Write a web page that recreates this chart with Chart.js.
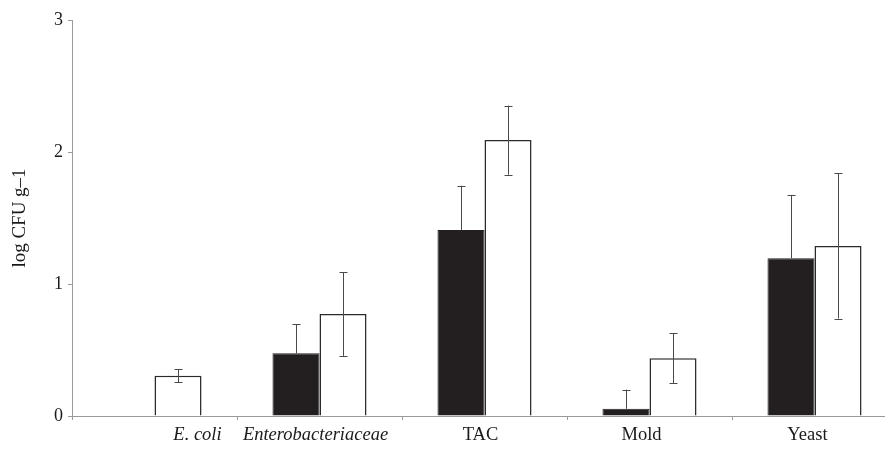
<!DOCTYPE html>
<html>
<head>
<meta charset="utf-8">
<script src="https://cdn.jsdelivr.net/npm/chart.js@4/dist/chart.umd.min.js"></script>
<style>
  html, body { margin: 0; padding: 0; background: #fff; overflow: hidden; }
  #wrap { width: 910px; height: 458px; }
</style>
</head>
<body>
<div id="wrap"><canvas id="c" width="910" height="458"></canvas></div>
<script>
// ---- data ----
const categories = ["E. coli", "Enterobacteriaceae", "TAC", "Mold", "Yeast"];
const seriesBlack = [0, 0.475, 1.41, 0.055, 1.195];
const errorBlack  = [0, 0.22, 0.335, 0.145, 0.48];
const seriesWhite = [0.305, 0.773, 2.09, 0.437, 1.288];
const errorWhite  = [0.048, 0.318, 0.262, 0.19, 0.55];
const yTicks = [0, 1, 2, 3];
const yTitle = "log CFU g\u20131";

// ---- style ----
const italicLabels = [true, true, false, false, false];
const labelShift = [43, -4, -4, -8, -7];
const FONT = "'Liberation Serif', 'Times New Roman', serif";

const errorBarPlugin = {
  id: 'errorBars',
  afterDatasetsDraw(chart) {
    const ctx = chart.ctx;
    const y = chart.scales.y;
    ctx.save();
    ctx.strokeStyle = '#4a4a4a';
    ctx.lineWidth = 1;
    chart.data.datasets.forEach((ds, di) => {
      const meta = chart.getDatasetMeta(di);
      meta.data.forEach((bar, i) => {
        const v = ds.data[i], e = ds.errors[i];
        if (!e) return;
        const x = Math.round(bar.x) + 0.5;
        const top = y.getPixelForValue(v + e);
        const bot = ds.lowerHidden ? y.getPixelForValue(v) : y.getPixelForValue(v - e);
        ctx.beginPath();
        ctx.moveTo(x, top); ctx.lineTo(x, bot);
        ctx.moveTo(x - 4, Math.round(top) + 0.5); ctx.lineTo(x + 4, Math.round(top) + 0.5);
        if (!ds.lowerHidden) {
          ctx.moveTo(x - 4, Math.round(bot) + 0.5); ctx.lineTo(x + 4, Math.round(bot) + 0.5);
        }
        ctx.stroke();
      });
    });
    ctx.restore();
  }
};

const labelShiftPlugin = {
  id: 'labelShift',
  beforeDraw(chart) {
    const items = chart.scales.x.getLabelItems();
    items.forEach((it, i) => {
      if (!it._shifted) {
        it.options.translation[0] += labelShift[i] || 0;
        it._shifted = true;
      }
    });
  }
};

new Chart(document.getElementById('c'), {
  type: 'bar',
  data: {
    labels: categories,
    datasets: [
      {
        label: 'Series 1',
        data: seriesBlack,
        errors: errorBlack,
        lowerHidden: true,
        backgroundColor: '#231f20',
        borderColor: '#231f20',
        borderWidth: 1,
        categoryPercentage: 0.57,
        barPercentage: 1.0
      },
      {
        label: 'Series 2',
        data: seriesWhite,
        errors: errorWhite,
        lowerHidden: false,
        backgroundColor: '#ffffff',
        borderColor: '#2a2a2a',
        borderWidth: 1.5,
        categoryPercentage: 0.57,
        barPercentage: 1.0
      }
    ]
  },
  options: {
    responsive: false,
    animation: false,
    layout: { padding: { top: 20, right: 13, left: 0, bottom: 0 } },
    plugins: {
      legend: { display: false },
      tooltip: { enabled: false }
    },
    scales: {
      x: {
        grid: { display: true, drawOnChartArea: false, offset: true, color: '#9a9a9a', tickLength: 4 },
        border: { color: '#9a9a9a', width: 1 },
        ticks: {
          color: '#1a1a1a',
          padding: 4,
          maxRotation: 0,
          autoSkip: false,
          font: (ctx) => ({ family: FONT, size: 18.5, style: italicLabels[ctx.index] ? 'italic' : 'normal' })
        },
        afterFit(scale) { scale.height = 42; }
      },
      y: {
        min: 0,
        max: 3,
        afterBuildTicks(scale) { scale.ticks = yTicks.map(v => ({ value: v })); },
        grid: { display: true, drawOnChartArea: false, color: '#9a9a9a', tickLength: 4 },
        border: { color: '#9a9a9a', width: 1 },
        ticks: {
          color: '#1a1a1a',
          padding: 5,
          font: { family: FONT, size: 18 }
        },
        title: {
          display: true,
          text: yTitle,
          color: '#1a1a1a',
          font: { family: FONT, size: 19 },
          padding: { top: 9, bottom: 6 }
        },
        afterFit(scale) { scale.width = 72; }
      }
    }
  },
  plugins: [errorBarPlugin, labelShiftPlugin]
});
</script>
</body>
</html>
